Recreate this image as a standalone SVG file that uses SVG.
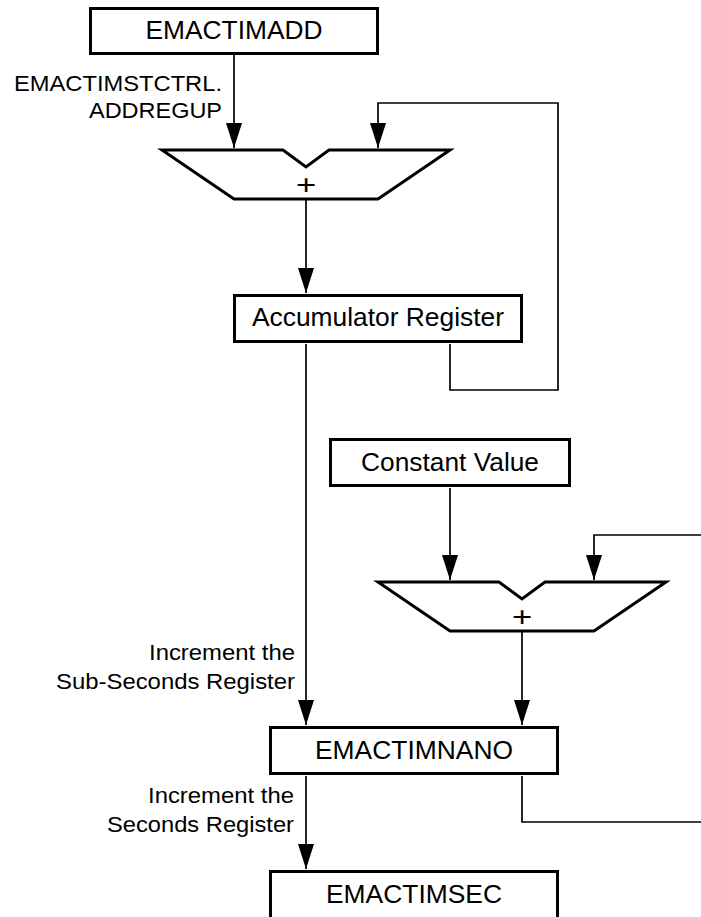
<svg xmlns="http://www.w3.org/2000/svg" width="701" height="917" viewBox="0 0 701 917">
<style>
.box{fill:#fff;stroke:#000;stroke-width:3}
.add{fill:#fff;stroke:#000;stroke-width:3;stroke-linejoin:miter}
.bt{font-family:"Liberation Sans",Arial,sans-serif;font-size:25px;fill:#000;text-anchor:middle}
.lb{font-family:"Liberation Sans",Arial,sans-serif;font-size:21.5px;fill:#000;text-anchor:end}
.pl{font-family:"Liberation Sans",Arial,sans-serif;font-size:33px;fill:#000;text-anchor:middle}
.ln{fill:none;stroke:#000;stroke-width:1.7}
</style>
<defs>
<marker id="ah" markerUnits="userSpaceOnUse" markerWidth="25" markerHeight="16" refX="25" refY="8" orient="auto">
<path d="M0,0 L25,8 L0,16 z" fill="#000"/>
</marker>
</defs>
<rect width="701" height="917" fill="#fff"/>
<g id="connectors">
<path class="ln" d="M234,55 V148" marker-end="url(#ah)"/>
<path class="ln" d="M450,344 V390 H558 V103 H378 V148" marker-end="url(#ah)"/>
<path class="ln" d="M306,200 V293" marker-end="url(#ah)"/>
<path class="ln" d="M306,344 V725" marker-end="url(#ah)"/>
<path class="ln" d="M450,488 V580" marker-end="url(#ah)"/>
<path class="ln" d="M701,535 H594 V580" marker-end="url(#ah)"/>
<path class="ln" d="M522,632 V725" marker-end="url(#ah)"/>
<path class="ln" d="M522,776 V822 H701"/>
<path class="ln" d="M306,776 V869" marker-end="url(#ah)"/>
<text class="lb" x="222" y="90.5" textLength="208" lengthAdjust="spacingAndGlyphs">EMACTIMSTCTRL.</text>
<text class="lb" x="222" y="117.5" textLength="133" lengthAdjust="spacingAndGlyphs">ADDREGUP</text>
<text class="lb" x="295" y="660" textLength="146" lengthAdjust="spacingAndGlyphs">Increment the</text>
<text class="lb" x="295" y="689" textLength="239" lengthAdjust="spacingAndGlyphs">Sub-Seconds Register</text>
<text class="lb" x="294" y="803" textLength="146" lengthAdjust="spacingAndGlyphs">Increment the</text>
<text class="lb" x="294" y="832" textLength="187" lengthAdjust="spacingAndGlyphs">Seconds Register</text>
</g>
<g id="emactimadd">
<rect class="box" x="90.5" y="8.5" width="287" height="45"/>
<text class="bt" x="234" y="39" textLength="177" lengthAdjust="spacingAndGlyphs">EMACTIMADD</text>
</g>
<g id="adder1">
<path class="add" d="M162,150 H283 L306,167 L329,150 H450 L378,199 H234 Z"/>
<text class="pl" transform="translate(306,184.5) scale(1.05,0.85)" x="0" y="11.6">+</text>
</g>
<g id="accumulator">
<rect class="box" x="234.5" y="295.5" width="287" height="46"/>
<text class="bt" x="378" y="326" textLength="252" lengthAdjust="spacingAndGlyphs">Accumulator Register</text>
</g>
<g id="constant">
<rect class="box" x="330.5" y="439.5" width="239" height="46"/>
<text class="bt" x="450" y="471" textLength="178" lengthAdjust="spacingAndGlyphs">Constant Value</text>
</g>
<g id="adder2">
<path class="add" d="M378,582 H499 L522,599 L545,582 H666 L594,631 H450 Z"/>
<text class="pl" transform="translate(522,616.5) scale(1.05,0.85)" x="0" y="11.6">+</text>
</g>
<g id="emactimnano">
<rect class="box" x="270.5" y="727.5" width="287" height="46"/>
<text class="bt" x="414" y="759" textLength="198" lengthAdjust="spacingAndGlyphs">EMACTIMNANO</text>
</g>
<g id="emactimsec">
<rect class="box" x="270.5" y="871.5" width="287" height="60"/>
<text class="bt" x="414" y="903" textLength="176" lengthAdjust="spacingAndGlyphs">EMACTIMSEC</text>
</g>
</svg>
